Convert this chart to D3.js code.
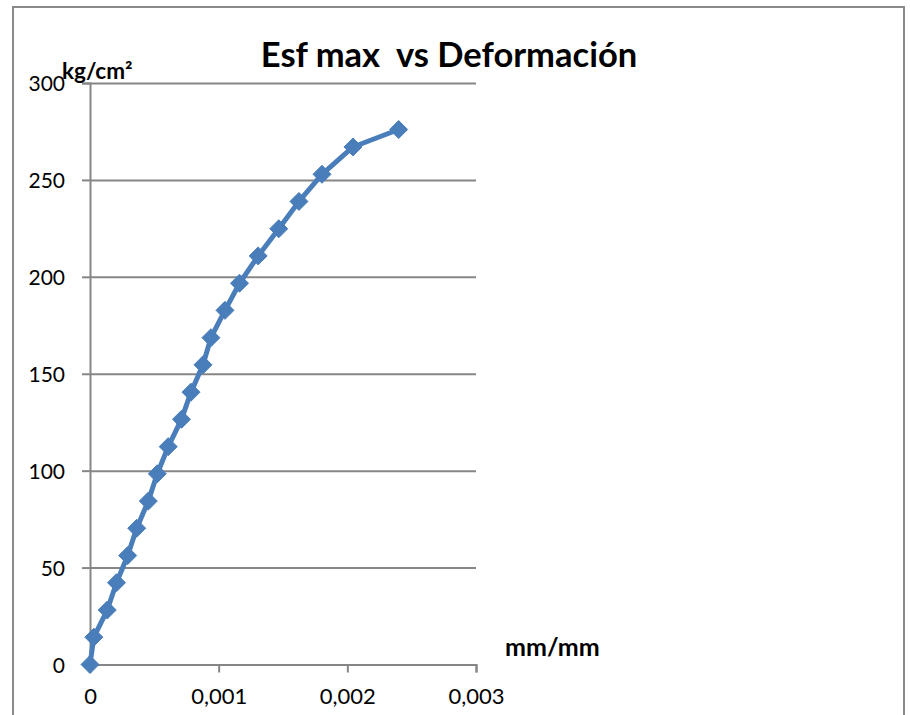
<!DOCTYPE html>
<html>
<head>
<meta charset="utf-8">
<script src="https://cdn.jsdelivr.net/npm/d3@7"></script>
<style>
  html, body { margin: 0; padding: 0; background: #ffffff; }
  svg { display: block; font-family: Lato, "Open Sans", sans-serif; }
  text { white-space: pre; }
</style>
</head>
<body>
<svg id="chart" width="910" height="715"></svg>
<script>
// Strain (mm/mm) and maximum stress (kg/cm²) readings
const strain = [0, 0.00003, 0.000134, 0.000206, 0.000293, 0.000363, 0.000453, 0.000523,
  0.000608, 0.000711, 0.000785, 0.000878, 0.00094, 0.001049, 0.001162, 0.001307,
  0.001467, 0.001624, 0.001803, 0.002044, 0.002399];
const stress = [0, 14.1, 28.1, 42.2, 56.2, 70.3, 84.3, 98.4, 112.4, 126.5, 140.5,
  154.6, 168.6, 182.7, 196.7, 210.8, 224.8, 238.9, 252.9, 267.0, 276];

const xTicks = [0, 0.001, 0.002, 0.003];
const yTicks = [0, 50, 100, 150, 200, 250, 300];
const xTickLabels = ["0", "0,001", "0,002", "0,003"];

const title = "Esf max  vs Deformación";
const yUnit = "kg/cm²";
const xUnit = "mm/mm";

const svg = d3.select("#chart");
const grid = "#868686";
const blue = "#4a7ebb";

// outer chart frame
svg.append("rect")
  .attr("x", 13).attr("y", 7).attr("width", 891).attr("height", 720)
  .attr("fill", "#ffffff").attr("stroke", "#8a8a8a").attr("stroke-width", 2);

const plot = { left: 90, right: 476, top: 83, bottom: 664.5 };
const x = d3.scaleLinear().domain([0, 0.003]).range([plot.left, plot.right]);
const y = d3.scaleLinear().domain([0, 300]).range([plot.bottom, plot.top]);

// horizontal gridlines with outward tick stubs
const yAxis = d3.axisLeft(y).tickValues(yTicks).tickSize(8).tickFormat(d => d);
const gy = svg.append("g").attr("transform", `translate(${plot.left},0)`).call(yAxis);
gy.select(".domain").attr("stroke", grid).attr("stroke-width", 2);
gy.selectAll(".tick line").attr("stroke", grid).attr("stroke-width", 2);
gy.selectAll(".tick").append("line")
  .attr("x1", 0).attr("x2", plot.right - plot.left)
  .attr("stroke", grid).attr("stroke-width", 2);
gy.selectAll(".tick text")
  .attr("x", -25).attr("dy", "0.36em")
  .attr("fill", "#000").attr("font-size", 21).attr("font-family", "Lato, sans-serif");

const xAxis = d3.axisBottom(x).tickValues(xTicks).tickSize(8)
  .tickFormat((d, i) => xTickLabels[i]);
const gx = svg.append("g").attr("transform", `translate(0,${plot.bottom})`).call(xAxis);
gx.select(".domain").attr("stroke", grid).attr("stroke-width", 2);
gx.selectAll(".tick line").attr("stroke", grid).attr("stroke-width", 2);
gx.selectAll(".tick text")
  .attr("y", 24).attr("dy", "0.71em")
  .attr("fill", "#000").attr("font-size", 22).attr("font-family", "Lato, sans-serif");

// data line and diamond markers
const pts = strain.map((s, i) => [s, stress[i]]);
svg.append("path")
  .datum(pts)
  .attr("fill", "none")
  .attr("stroke", blue)
  .attr("stroke-width", 5)
  .attr("stroke-linejoin", "round")
  .attr("d", d3.line().x(d => x(d[0])).y(d => y(d[1])));

svg.append("g").selectAll("path")
  .data(pts)
  .join("path")
  .attr("transform", d => `translate(${x(d[0])},${y(d[1])})`)
  .attr("d", "M0,-9L9,0L0,9L-9,0Z")
  .attr("fill", blue)
  .attr("stroke", blue)
  .attr("stroke-width", 1);

// titles
svg.append("text")
  .attr("x", 449).attr("y", 67)
  .attr("text-anchor", "middle")
  .attr("font-size", 34.5).attr("font-weight", "bold")
  .text(title);

svg.append("text")
  .attr("x", 62).attr("y", 79)
  .attr("font-size", 22.5).attr("font-weight", "bold")
  .text(yUnit);

svg.append("text")
  .attr("x", 505).attr("y", 656)
  .attr("font-size", 25).attr("font-weight", "bold")
  .text(xUnit);
</script>
</body>
</html>
